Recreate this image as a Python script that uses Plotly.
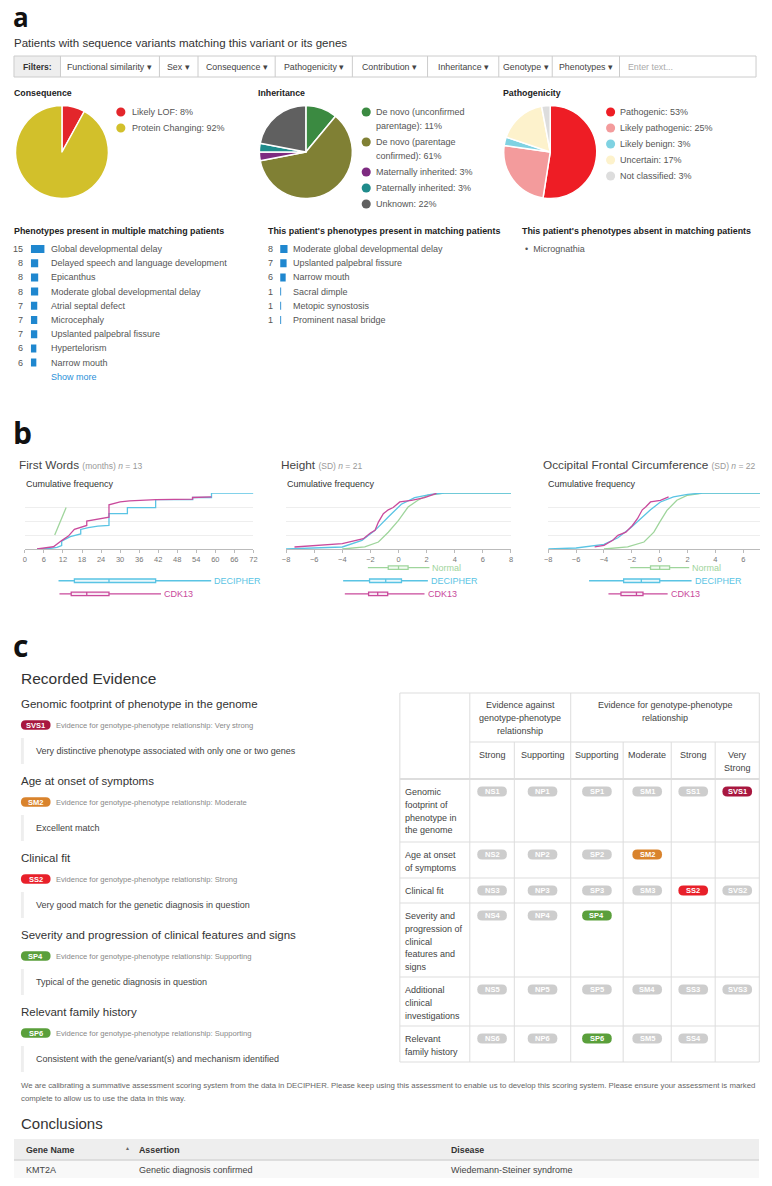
import plotly.graph_objects as go

W, H = 772, 1186          # reference picture size
OFF = 8                   # page body margin
FW, FH = W - 2 * OFF, H - 2 * OFF
FONT = "Liberation Sans, Arial, Helvetica, sans-serif"


def X(p):
    return (p - OFF) / FW


def Y(p):
    return 1 - (p - OFF) / FH


# ---------------- data ----------------
filter_labels = ["Functional similarity", "Sex", "Consequence", "Pathogenicity",
                 "Contribution", "Inheritance", "Genotype", "Phenotypes"]

cons_labels = ["Likely LOF", "Protein Changing"]
cons_values = [8, 92]
cons_colors = ["#e3262b", "#d2c02b"]

inh_labels = ["De novo (unconfirmed<br>parentage)", "De novo (parentage<br>confirmed)",
              "Maternally inherited", "Paternally inherited", "Unknown"]
inh_values = [11, 61, 3, 3, 22]
inh_colors = ["#3b8a41", "#808034", "#7d2a80", "#1f8b8b", "#606060"]

path_labels = ["Pathogenic", "Likely pathogenic", "Likely benign", "Uncertain", "Not classified"]
path_values = [53, 25, 3, 17, 3]
path_colors = ["#ee1d25", "#f39b9c", "#7fd2e2", "#fdf2cc", "#dddddd"]

pheno_multi_labels = ["Global developmental delay", "Delayed speech and language development",
                      "Epicanthus", "Moderate global developmental delay", "Atrial septal defect",
                      "Microcephaly", "Upslanted palpebral fissure", "Hypertelorism", "Narrow mouth"]
pheno_multi_counts = [15, 8, 8, 8, 7, 7, 7, 6, 6]
pheno_present_labels = ["Moderate global developmental delay", "Upslanted palpebral fissure",
                        "Narrow mouth", "Sacral dimple", "Metopic synostosis", "Prominent nasal bridge"]
pheno_present_counts = [8, 7, 6, 1, 1, 1]
pheno_absent_labels = ["Micrognathia"]

# First words (months)
fw_dec_x = [3.85, 8.0, 10.1, 11.6, 11.6, 14.3, 17.6, 17.6, 20.0, 23.0, 26.5, 26.5, 32.3, 32.3,
            41.2, 41.2, 52.9, 52.9, 58.8, 58.8, 72]
fw_dec_y = [0, 0.01, 0.03, 0.06, 0.14, 0.22, 0.27, 0.35, 0.38, 0.41, 0.42, 0.63, 0.63, 0.74,
            0.74, 0.88, 0.88, 0.92, 0.92, 1.0, 1.0]
fw_cdk_x = [3.85, 9.0, 11.6, 13.7, 15.6, 17.6, 19.5, 19.5, 26.5, 26.5, 30.0, 33.0, 41.3, 52.8, 52.8, 58.8]
fw_cdk_y = [0.0, 0.04, 0.15, 0.23, 0.35, 0.39, 0.42, 0.50, 0.57, 0.79, 0.84, 0.86, 0.88, 0.89, 0.92, 0.93]
fw_norm_x = [9.4, 11.2, 13.0]
fw_norm_y = [0.25, 0.5, 0.74]

# Height (SD)
ht_norm_x = [-4.0, -2.4, -1.43, -0.73, 0.0, 0.68, 1.38, 2.09, 3.26, 8.0]
ht_norm_y = [0.0, 0.036, 0.125, 0.30, 0.51, 0.75, 0.87, 0.96, 1.0, 1.0]
ht_dec_x = [-8.0, -4.0, -2.6, -1.67, -0.73, 0.2, 1.15, 2.3, 3.26, 8.0]
ht_dec_y = [0.0, 0.036, 0.155, 0.333, 0.57, 0.80, 0.917, 0.976, 1.0, 1.0]
ht_cdk_x = [-7.4, -4.0, -2.5, -2.0, -1.67, -1.43, -1.08, -0.73, -0.38, 0.09, 0.92, 1.85, 2.3, 2.7]
ht_cdk_y = [0.036, 0.095, 0.185, 0.286, 0.333, 0.48, 0.63, 0.70, 0.74, 0.84, 0.87, 0.917, 0.958, 0.995]

# Occipital frontal circumference (SD)
ofc_norm_x = [-4.0, -2.3, -1.13, -0.42, 0.0, 0.52, 1.23, 2.0, 3.1, 8.0]
ofc_norm_y = [0.0, 0.036, 0.125, 0.30, 0.48, 0.69, 0.87, 0.96, 1.0, 1.0]
ofc_dec_x = [-8.0, -6.0, -4.0, -3.0, -2.08, -1.37, -0.66, 0.05, 0.99, 2.0, 3.1, 8.0]
ofc_dec_y = [0.0, 0.018, 0.083, 0.20, 0.38, 0.54, 0.70, 0.84, 0.93, 0.976, 1.0, 1.0]
ofc_cdk_x = [-4.67, -4.0, -3.37, -3.0, -2.43, -1.96, -1.6, -1.25, -1.01, -0.66, 0.05, 0.64]
ofc_cdk_y = [0.036, 0.065, 0.155, 0.244, 0.30, 0.42, 0.54, 0.70, 0.75, 0.84, 0.87, 0.93]

# Box summaries: [q1, median, q3, lower whisker, upper whisker]
fw_box = {"DECIPHER": [15.6, 26.5, 41.2, 10.6, 58.7], "CDK13": [14.6, 19.5, 26.5, 10.9, 42.9]}
ht_box = {"Normal": [-0.73, 0.0, 0.68, -2.18, 2.2], "DECIPHER": [-2.06, -0.91, 0.21, -3.94, 2.09],
          "CDK13": [-2.13, -1.48, -0.77, -3.82, 1.85]}
ofc_box = {"Normal": [-0.66, 0.0, 0.71, -2.12, 2.12], "DECIPHER": [-2.59, -1.32, 0.0, -5.07, 2.29],
           "CDK13": [-2.78, -1.67, -1.2, -3.68, 0.57]}

evidence_titles = ["Genomic footprint of phenotype in the genome", "Age at onset of symptoms",
                   "Clinical fit", "Severity and progression of clinical features and signs",
                   "Relevant family history"]
evidence_codes = ["SVS1", "SM2", "SS2", "SP4", "SP6"]
evidence_levels = ["Very strong", "Moderate", "Strong", "Supporting", "Supporting"]
evidence_notes = ["Very distinctive phenotype associated with only one or two genes",
                  "Excellent match", "Very good match for the genetic diagnosis in question",
                  "Typical of the genetic diagnosis in question",
                  "Consistent with the gene/variant(s) and mechanism identified"]

table_group_against = ["Evidence against", "genotype-phenotype", "relationship"]
table_group_for = ["Evidence for genotype-phenotype", "relationship"]
table_levels = [["Strong"], ["Supporting"], ["Supporting"], ["Moderate"], ["Strong"], ["Very", "Strong"]]
table_row_labels = [["Genomic", "footprint of", "phenotype in", "the genome"],
                    ["Age at onset", "of symptoms"], ["Clinical fit"],
                    ["Severity and", "progression of", "clinical", "features and", "signs"],
                    ["Additional", "clinical", "investigations"], ["Relevant", "family history"]]
table_codes = [["NS1", "NP1", "SP1", "SM1", "SS1", "SVS1"],
               ["NS2", "NP2", "SP2", "SM2", "", ""],
               ["NS3", "NP3", "SP3", "SM3", "SS2", "SVS2"],
               ["NS4", "NP4", "SP4", "", "", ""],
               ["NS5", "NP5", "SP5", "SM4", "SS3", "SVS3"],
               ["NS6", "NP6", "SP6", "SM5", "SS4", ""]]

footer_lines = ["We are calibrating a summative assessment scoring system from the data in DECIPHER. Please keep using this assessment to enable us to develop this scoring system. Please ensure your assessment is marked",
                "complete to allow us to use the data in this way."]
conc_headers = ["Gene Name", "Assertion", "Disease"]
conc_row = ["KMT2A", "Genetic diagnosis confirmed", "Wiedemann-Steiner syndrome"]

# ---------------- colours ----------------
C_NORM = "#9fd59c"
C_DEC = "#5ac4e4"
C_CDK = "#c94a9c"
CODE_COL = {"SVS": "#a8173f", "SS": "#e8202a", "SM": "#d9832c", "SP": "#5a9f3b"}
GREY_BADGE = "#cdcdcd"

fig = go.Figure()
ann, shp = [], []


def text(x, y, s, size=9, color="#444", xanchor="left", yanchor="middle", family=FONT):
    ann.append(dict(x=X(x), y=Y(y), xref="paper", yref="paper", text=s, showarrow=False,
                    xanchor=xanchor, yanchor=yanchor, borderpad=0, borderwidth=0,
                    font=dict(size=size, color=color, family=family)))


def rect(x0, y0, x1, y1, fill="rgba(0,0,0,0)", line=None, lw=1, layer="below"):
    shp.append(dict(type="rect", xref="paper", yref="paper", x0=X(x0), x1=X(x1), y0=Y(y1), y1=Y(y0),
                    fillcolor=fill, layer=layer,
                    line=dict(color=line if line else "rgba(0,0,0,0)", width=lw if line else 0)))


def seg(x0, y0, x1, y1, color="#dddddd", w=1):
    shp.append(dict(type="line", xref="paper", yref="paper", x0=X(x0), x1=X(x1), y0=Y(y0), y1=Y(y1),
                    line=dict(color=color, width=w)))


def circle(cx, cy, r, color):
    shp.append(dict(type="circle", xref="paper", yref="paper", x0=X(cx - r), x1=X(cx + r),
                    y0=Y(cy + r), y1=Y(cy - r), fillcolor=color, line=dict(width=0)))


def pill(cx, cy, w, h, color, label, size=7.5):
    x0, x1 = cx - w / 2, cx + w / 2
    t, b = cy - h / 2, cy + h / 2
    r = h / 2

    def p(a, c):
        return f"{X(a):.6f},{Y(c):.6f}"
    path = (f"M{p(x0 + r, t)} L{p(x1 - r, t)} Q{p(x1, t)} {p(x1, cy)} Q{p(x1, b)} {p(x1 - r, b)} "
            f"L{p(x0 + r, b)} Q{p(x0, b)} {p(x0, cy)} Q{p(x0, t)} {p(x0 + r, t)} Z")
    shp.append(dict(type="path", xref="paper", yref="paper", path=path, fillcolor=color,
                    line=dict(width=0)))
    text(cx, cy, f"<b>{label}</b>", size=size, color="white", xanchor="center")


def code_color(code):
    for k in ["SVS", "SS", "SM", "SP"]:
        if code.startswith(k):
            return CODE_COL[k]
    return GREY_BADGE


LETTER_FONT = "Open Sans, Liberation Sans, sans-serif"

# ================= Section a =================
text(9, 17, "<b>a</b>", size=26, color="#111", family=LETTER_FONT)
text(10, 43, "Patients with sequence variants matching this variant or its genes", size=11.5, color="#333")

# filter bar
seps = [57, 157, 196, 274, 352, 428, 500, 554, 622]
rect(10, 56, 57, 77, fill="#eeeeee")
rect(10, 56, 760, 77, line="#cccccc")
for s in seps:
    seg(s, 56, s, 77, color="#cccccc")
text(33.5, 66.5, "<b>Filters:</b>", size=8.6, color="#333", xanchor="center")
for i, lab in enumerate(filter_labels):
    text((seps[i] + seps[i + 1]) / 2, 66.5, lab + " ▾", size=8.8, color="#444", xanchor="center")
text(631, 66.5, "Enter text...", size=8.8, color="#aaaaaa")

# pies
pie_specs = [
    ("Consequence", cons_labels, cons_values, cons_colors, 58.5, 10, 118, 129),
    ("Inheritance", inh_labels, inh_values, inh_colors, 305, 257, 366, 376),
    ("Pathogenicity", path_labels, path_values, path_colors, 552, 504, 613, 623),
]
for title, labs, vals, cols, cx, tx, mx, lx in pie_specs:
    fig.add_trace(go.Pie(labels=[l.replace("<br>", " ") for l in labs], values=vals,
                         marker=dict(colors=cols, line=dict(color="white", width=1.5)),
                         sort=False, direction="clockwise", rotation=0, textinfo="none",
                         domain=dict(x=[X(cx - 47), X(cx + 47)], y=[Y(199), Y(105)]),
                         showlegend=False))
    text(tx, 93, f"<b>{title}</b>", size=8.8, color="#222")
    yy = 112
    for lab, v, c in zip(labs, vals, cols):
        circle(mx, yy, 4.6, c)
        lines = f"{lab}: {v}%".split("<br>")
        for k, ln in enumerate(lines):
            text(lx, yy + 14 * k, ln, size=9, color="#555")
        yy += 16 + 14 * (len(lines) - 1)

# phenotype lists
text(10, 231, "<b>Phenotypes present in multiple matching patients</b>", size=8.9, color="#222")
text(267, 231, "<b>This patient's phenotypes present in matching patients</b>", size=8.9, color="#222")
text(523, 231, "<b>This patient's phenotypes absent in matching patients</b>", size=8.9, color="#222")

ROW = 14.2
fig.add_trace(go.Bar(x=pheno_multi_counts, y=list(range(len(pheno_multi_counts))), orientation="h",
                     xaxis="x7", yaxis="y7", width=0.56, marker=dict(color="#1f87cf", line=dict(width=0)),
                     showlegend=False))
fig.add_trace(go.Bar(x=pheno_present_counts, y=list(range(len(pheno_present_counts))), orientation="h",
                     xaxis="x8", yaxis="y8", width=0.56, marker=dict(color="#1f87cf", line=dict(width=0)),
                     showlegend=False))
for i, (lab, n) in enumerate(zip(pheno_multi_labels, pheno_multi_counts)):
    yy = 249 + i * ROW
    text(19.5, yy, str(n), size=9, color="#555", xanchor="right")
    text(47, yy, lab, size=9, color="#555")
text(47, 249 + len(pheno_multi_labels) * ROW, "Show more", size=9, color="#2a8fd8")
for i, (lab, n) in enumerate(zip(pheno_present_labels, pheno_present_counts)):
    yy = 249 + i * ROW
    text(272, yy, str(n), size=9, color="#555", xanchor="right")
    text(292, yy, lab, size=9, color="#555")
for i, lab in enumerate(pheno_absent_labels):
    text(526, 249 + i * ROW, "•  " + lab, size=9, color="#555")

# ================= Section b =================
text(9, 432, "<b>b</b>", size=30, color="#111", family=LETTER_FONT)

charts = [
    ("First Words", "(months)", 13, 15, 22, fw_norm_x, fw_norm_y, fw_dec_x, fw_dec_y, fw_cdk_x, fw_cdk_y, fw_box),
    ("Height", "(SD)", 21, 280, 286, ht_norm_x, ht_norm_y, ht_dec_x, ht_dec_y, ht_cdk_x, ht_cdk_y, ht_box),
    ("Occipital Frontal Circumference", "(SD)", 22, 545, 550, ofc_norm_x, ofc_norm_y, ofc_dec_x, ofc_dec_y,
     ofc_cdk_x, ofc_cdk_y, ofc_box),
]
box_cols = {"Normal": C_NORM, "DECIPHER": C_DEC, "CDK13": C_CDK}
box_fill = {"Normal": "rgba(159,213,156,0.12)", "DECIPHER": "rgba(90,196,228,0.12)",
            "CDK13": "rgba(201,74,156,0.12)"}
for k, (ttl, unit, n, tx, cfx, nx, ny, dx, dy, cx_, cy_, boxes) in enumerate(charts):
    ax = "" if k == 0 else str(k + 1)
    bx = str(k + 4)
    text(tx, 465, f"{ttl} <span style='font-size:8.5px;color:#999'>{unit} <i>n</i> = {n}</span>",
         size=11.8, color="#444")
    text(cfx, 483.5, "Cumulative frequency", size=9, color="#333")
    for xs, ys, c in [(nx, ny, C_NORM), (dx, dy, C_DEC), (cx_, cy_, C_CDK)]:
        fig.add_trace(go.Scatter(x=xs, y=ys, mode="lines", line=dict(color=c, width=1.3),
                                 xaxis="x" + ax, yaxis="y" + ax, showlegend=False))
    for name, (q1, med, q3, lo, hi) in boxes.items():
        fig.add_trace(go.Box(y=[name], q1=[q1], median=[med], q3=[q3], lowerfence=[lo], upperfence=[hi],
                             orientation="h", xaxis="x" + bx, yaxis="y" + bx, whiskerwidth=0,
                             boxpoints=False, line=dict(color=box_cols[name], width=1.3),
                             fillcolor=box_fill[name], showlegend=False))
        ann.append(dict(x=hi, y=name, xref="x" + bx, yref="y" + bx, text=name, showarrow=False,
                        xanchor="left", yanchor="middle", xshift=3, borderpad=0, borderwidth=0,
                        font=dict(size=9, color=box_cols[name], family=FONT)))

# ================= Section c =================
text(9, 646, "<b>c</b>", size=30, color="#111", family=LETTER_FONT)
text(17, 678, "Recorded Evidence", size=15.5, color="#333")
for i, (ttl, code, lvl, note) in enumerate(zip(evidence_titles, evidence_codes, evidence_levels, evidence_notes)):
    base = 704 + i * 77
    text(17, base, ttl, size=11.5, color="#333")
    pill(32, base + 21, 30, 9.5, code_color(code), code, size=7.5)
    text(52, base + 21, f"Evidence for genotype-phenotype relationship: {lvl}", size=7.6, color="#888")
    rect(17, base + 34, 20, base + 60, fill="#eeeeee")
    text(32, base + 47, note, size=9, color="#444")

# evidence table
cx = [400, 470.7, 515.7, 572.7, 625.7, 674.3, 718.7, 763.3]
ry = [693, 779, 842, 878, 903, 977, 1026, 1062]
rect(400, 693, 763.3, 1062, line="#dddddd")
seg(470.7, 693, 470.7, 1062)
seg(572.7, 693, 572.7, 1062)
seg(470.7, 742, 763.3, 742)
for xx in [515.7, 625.7, 674.3, 718.7]:
    seg(xx, 742, xx, 1062)
seg(400, 779, 763.3, 779, w=2)
for yy in ry[2:-1]:
    seg(400, yy, 763.3, yy)
for j, ln in enumerate(table_group_against):
    text((470.7 + 572.7) / 2, 705 + 13 * j, ln, size=9, color="#444", xanchor="center")
for j, ln in enumerate(table_group_for):
    text((572.7 + 763.3) / 2, 705 + 13 * j, ln, size=9, color="#444", xanchor="center")
for c, lines in enumerate(table_levels):
    for j, ln in enumerate(lines):
        text((cx[c + 1] + cx[c + 2]) / 2, 755 + 13 * j, ln, size=9, color="#444", xanchor="center")
for r, (lines, codes) in enumerate(zip(table_row_labels, table_codes)):
    top = ry[r + 1]
    for j, ln in enumerate(lines):
        text(405, top + 13 + 12.8 * j, ln, size=9, color="#444")
    for c, code in enumerate(codes):
        if not code:
            continue
        col = code_color(code) if code in evidence_codes else GREY_BADGE
        pill((cx[c + 1] + cx[c + 2]) / 2, top + 12.5, 30, 10, col, code, size=7.5)

# footer & conclusions
for j, ln in enumerate(footer_lines):
    text(17, 1085 + 13.5 * j, ln, size=7.8, color="#666")
text(17, 1123, "Conclusions", size=15, color="#333")
rect(10, 1139, 763, 1160, fill="#eeeeee")
rect(10, 1160, 763, 1178, fill="#f8f8f8")
seg(10, 1160, 763, 1160, color="#d6d6d6", w=1.5)
hx = [22, 136, 452]
for x0, h in zip(hx, conc_headers):
    text(x0, 1149.5, f"<b>{h}</b>", size=8.8, color="#333")
text(125, 1148, "▲", size=5, color="#666", xanchor="center")
for x0, v in zip(hx, conc_row):
    text(x0, 1170, v, size=9, color="#444")

# ---------------- layout ----------------
cum_x = dict(showline=True, linecolor="#bbbbbb", linewidth=1, ticks="outside", ticklen=3,
             tickcolor="#bbbbbb", tickfont=dict(size=7.5, color="#777", family=FONT),
             showgrid=False, zeroline=False, fixedrange=True)
cum_y = dict(range=[0, 1], tickvals=[0.25, 0.5, 0.75, 1.0], showticklabels=False, showgrid=True,
             gridcolor="#eeeeee", gridwidth=1, zeroline=False, showline=False, ticks="",
             domain=[Y(549), Y(493)], fixedrange=True)
xdoms = [[X(21), X(252)], [X(285), X(512.3)], [X(550), 1.0]]
xranges = [[0, 72], [-8, 8], [-8, 7.2]]
xdticks = [6, 2, 2]
box_y = dict(type="category", categoryorder="array", categoryarray=["CDK13", "DECIPHER", "Normal"],
             range=[-0.5, 2.5], domain=[Y(600.5), Y(561)], visible=False, fixedrange=True)

lay = dict(width=FW, height=FH, autosize=False, margin=dict(l=0, r=0, t=0, b=0),
           paper_bgcolor="white", plot_bgcolor="white", showlegend=False,
           font=dict(family=FONT), boxgap=0.62, annotations=ann, shapes=shp)
for k in range(3):
    ax = "" if k == 0 else str(k + 1)
    lay["xaxis" + ax] = dict(cum_x, domain=xdoms[k], range=xranges[k], dtick=xdticks[k], tick0=0,
                             anchor="y" + ax)
    lay["yaxis" + ax] = dict(cum_y, anchor="x" + ax)
    bx = str(k + 4)
    lay["xaxis" + bx] = dict(domain=xdoms[k], range=xranges[k], visible=False, anchor="y" + bx,
                             fixedrange=True)
    lay["yaxis" + bx] = dict(box_y, anchor="x" + bx)

lay["xaxis7"] = dict(domain=[X(27), X(41)], range=[0, 15], visible=False, anchor="y7")
lay["yaxis7"] = dict(domain=[Y(249 - ROW / 2 + 9 * ROW), Y(249 - ROW / 2)], range=[8.5, -0.5],
                     visible=False, anchor="x7")
lay["xaxis8"] = dict(domain=[X(279), X(293)], range=[0, 15], visible=False, anchor="y8")
lay["yaxis8"] = dict(domain=[Y(249 - ROW / 2 + 6 * ROW), Y(249 - ROW / 2)], range=[5.5, -0.5],
                     visible=False, anchor="x8")

fig.update_layout(**lay)
fig.write_html("out.html")
